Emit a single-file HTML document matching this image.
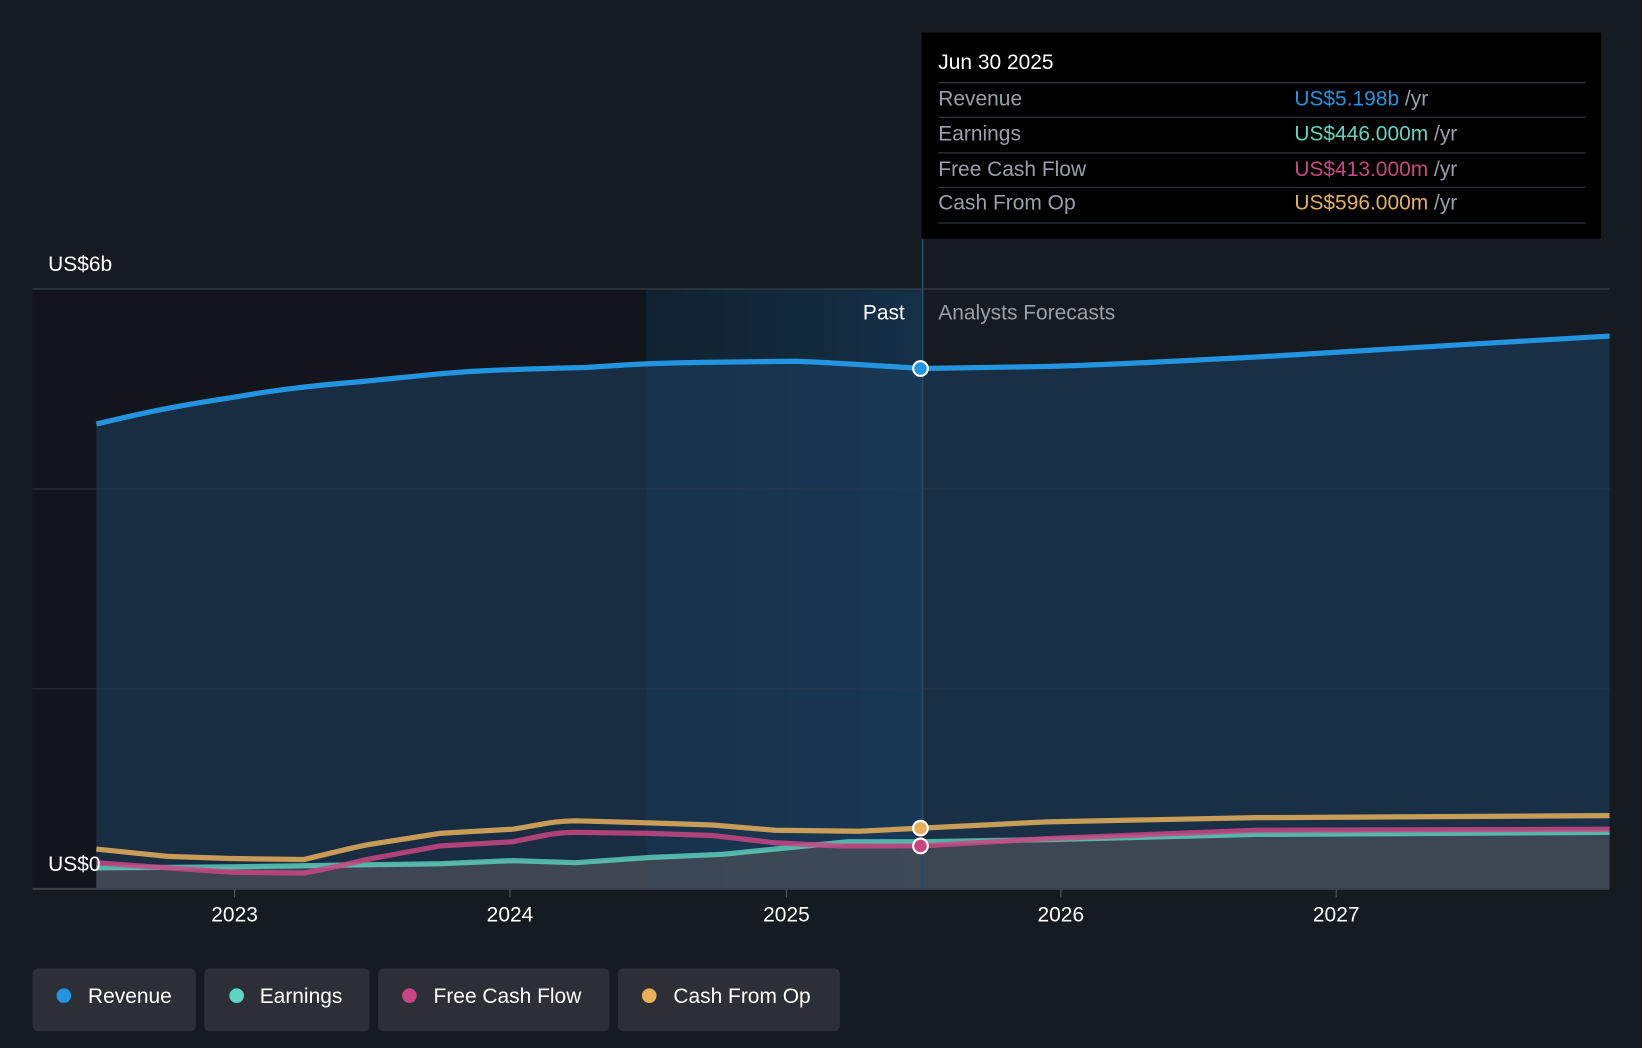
<!DOCTYPE html>
<html><head><style>
html,body{margin:0;padding:0;background:#161b22;}
svg{display:block;font-family:"Liberation Sans",sans-serif;}
</style></head><body>
<svg width="1642" height="1048" viewBox="0 0 1568 1001" preserveAspectRatio="none">
<rect width="1568" height="1001" fill="#161b22"/>
<rect x="31" y="276" width="586" height="573" fill="#12161c"/>
<defs>
<linearGradient id="pg" x1="0" y1="0" x2="1" y2="0"><stop offset="0" stop-color="#0f2333"/><stop offset="1" stop-color="#133550"/></linearGradient>
</defs>
<rect x="617" y="276" width="264" height="573" fill="url(#pg)" opacity="0.8"/>
<g stroke="#2c323b" stroke-width="1">
<line x1="31" y1="276" x2="1537" y2="276" stroke="#3a404a"/>
<line x1="31" y1="467" x2="1537" y2="467"/>
<line x1="31" y1="658" x2="1537" y2="658"/>
</g>
<path d="M92,405 C130,396 160,389 220,380 C260,373 290,369 350,364 L410,358 C440,355 470,353 560,351 C590,349 610,347 680,346 L760,345 C790,346 820,348 880,352 L1000,350 C1050,349 1100,346 1200,341 L1300,335 L1400,329 L1537,321 L1537,849 L92,849 Z" fill="#1d3f63" opacity="0.55"/>
<path d="M92,829 L220,828 L350,826 L490,822 L550,824 L620,819 L690,816 L750,810 L810,804 L880,804 L1000,802 L1200,797 L1537,795 L1537,849 L92,849 Z" fill="#4a4f58" opacity="0.75"/>
<path d="M92,405 C130,396 160,389 220,380 C260,373 290,369 350,364 L410,358 C440,355 470,353 560,351 C590,349 610,347 680,346 L760,345 C790,346 820,348 880,352 L1000,350 C1050,349 1100,346 1200,341 L1300,335 L1400,329 L1537,321" fill="none" stroke="#2394df" stroke-width="5"/>
<path d="M92,829 L220,828 L350,826 L420,825 L490,822 L550,824 L620,819 L690,816 L750,810 L810,804 L880,804 L1000,802 L1200,797 L1537,795" fill="none" stroke="#5fd4c0" stroke-width="5" opacity="0.8"/>
<path d="M92,824 L160,829 L220,833 L290,834 C320,828 330,826 350,821 L420,808 L490,804 C520,798 530,795 550,795 L620,796 L680,798 L740,805 L800,808 L880,808 L1000,801 L1200,793 L1537,792" fill="none" stroke="#c94682" stroke-width="5" opacity="0.85"/>
<path d="M92,811 L160,818 L220,820 L290,821 C320,814 330,811 350,807 L420,796 L490,792 C520,787 530,784 550,784 L620,786 L680,788 L740,793 L820,794 L880,791 L1000,785 L1200,781 L1537,779" fill="none" stroke="#e8b05a" stroke-width="5" opacity="0.85"/>
<line x1="881" y1="228" x2="881" y2="849" stroke="#2a4a66" stroke-width="1.5"/>
<line x1="31" y1="849" x2="1537" y2="849" stroke="#3a404a" stroke-width="2"/>
<circle cx="879" cy="352" r="7" fill="#2394df" stroke="#fff" stroke-width="2"/>
<circle cx="879" cy="791" r="7" fill="#e8b05a" stroke="#fff" stroke-width="2"/>
<circle cx="879" cy="808" r="7" fill="#c94682" stroke="#fff" stroke-width="2"/>
<g stroke="#555b64"><line x1="224" y1="849" x2="224" y2="857"/><line x1="487" y1="849" x2="487" y2="857"/><line x1="751" y1="849" x2="751" y2="857"/><line x1="1013" y1="849" x2="1013" y2="857"/><line x1="1276" y1="849" x2="1276" y2="857"/></g>
<g fill="#fff" font-size="20" text-anchor="middle">
<text x="224" y="880">2023</text><text x="487" y="880">2024</text><text x="751" y="880">2025</text><text x="1013" y="880">2026</text><text x="1276" y="880">2027</text>
</g>
<text x="46" y="259" fill="#fff" font-size="20">US$6b</text>
<text x="46" y="832" fill="#fff" font-size="20">US$0</text>
<text x="864" y="305" fill="#fff" font-size="20" text-anchor="end">Past</text>
<text x="896" y="305" fill="#9aa0a8" font-size="20">Analysts Forecasts</text>
<rect x="880" y="31" width="649" height="197" fill="#000"/>
<text x="896" y="66" fill="#fff" font-size="20">Jun 30 2025</text>
<g stroke="#3a3f46"><line x1="896" y1="79" x2="1514" y2="79"/><line x1="896" y1="112" x2="1514" y2="112"/><line x1="896" y1="146" x2="1514" y2="146"/><line x1="896" y1="179" x2="1514" y2="179"/><line x1="896" y1="213" x2="1514" y2="213"/></g>
<g font-size="20" fill="#9aa0a8">
<text x="896" y="101">Revenue</text><text x="896" y="134">Earnings</text><text x="896" y="168">Free Cash Flow</text><text x="896" y="200">Cash From Op</text>
</g>
<g font-size="20">
<text x="1236" y="101"><tspan fill="#2394df">US$5.198b</tspan><tspan fill="#9aa0a8"> /yr</tspan></text>
<text x="1236" y="134"><tspan fill="#5fd4c0">US$446.000m</tspan><tspan fill="#9aa0a8"> /yr</tspan></text>
<text x="1236" y="168"><tspan fill="#c94682">US$413.000m</tspan><tspan fill="#9aa0a8"> /yr</tspan></text>
<text x="1236" y="200"><tspan fill="#e8b05a">US$596.000m</tspan><tspan fill="#9aa0a8"> /yr</tspan></text>
</g>
<g fill="#2c2f36">
<rect x="31" y="925" width="156" height="60" rx="5"/><rect x="195" y="925" width="158" height="60" rx="5"/><rect x="361" y="925" width="221" height="60" rx="5"/><rect x="590" y="925" width="212" height="60" rx="5"/>
</g>
<circle cx="61" cy="951" r="7" fill="#2394df"/><circle cx="226" cy="951" r="7" fill="#5fd4c0"/><circle cx="391" cy="951" r="7" fill="#c94682"/><circle cx="620" cy="951" r="7" fill="#e8b05a"/>
<g fill="#fff" font-size="20">
<text x="84" y="958">Revenue</text><text x="248" y="958">Earnings</text><text x="414" y="958">Free Cash Flow</text><text x="643" y="958">Cash From Op</text>
</g>
</svg>
</body></html>
